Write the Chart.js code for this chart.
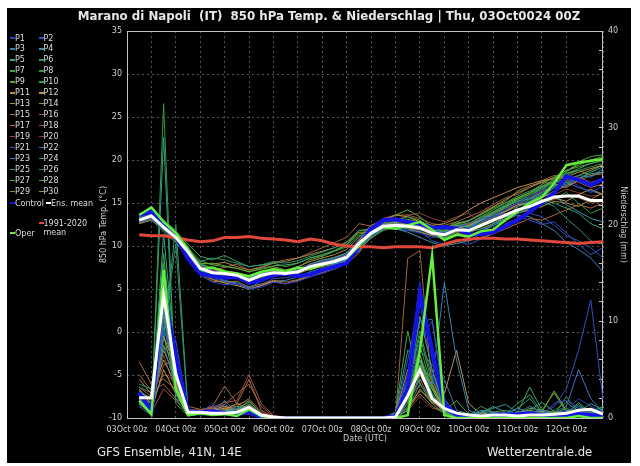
<!DOCTYPE html>
<html>
<head>
<meta charset="utf-8">
<script src="https://cdn.jsdelivr.net/npm/chart.js@4.4.1/dist/chart.umd.min.js"></script>
<style>
  html, body { margin: 0; padding: 0; background: #fff; width: 640px; height: 466px; overflow: hidden; font-family: "DejaVu Sans", sans-serif; }
  #panel { position: absolute; left: 7px; top: 8px; width: 624px; height: 455px; background: #000; }
  #chart { position: absolute; left: 0; top: 0; }
  .txt { position: absolute; color: #e8e8e8; white-space: pre; }
  #title { left: 9px; width: 640px; top: 9px; text-align: center; font-weight: bold; font-size: 11.8px; }
  .foot { top: 445px; font-size: 11.7px; }
  .leg { position: absolute; font-size: 8px; line-height: 9px; color: #dcdcdc; white-space: pre; }
  .sw { position: absolute; height: 1.5px; width: 5px; }
</style>
</head>
<body>
<div id="panel"></div>
<canvas id="chart" width="640" height="466"></canvas>
<div id="title" class="txt">Marano di Napoli  (IT)  850 hPa Temp. &amp; Niederschlag | Thu, 03Oct0024 00Z</div>
<div class="txt foot" style="left:97px">GFS Ensemble, 41N, 14E</div>
<div class="txt foot" style="left:487px">Wetterzentrale.de</div>
<div id="legend"></div>
<script>
/* global Chart */

// forecast hours (from 03Oct 00z)
var hours = [6,12,18,24,30,36,42,48,54,60,66,72,78,84,90,96,102,108,114,120,126,132,138,144,150,156,162,168,174,180,186,192,198,204,210,216,222,228,234];
var dayLabels = ['03Oct 00z','04Oct 00z','05Oct 00z','06Oct 00z','07Oct 00z','08Oct 00z','09Oct 00z','10Oct 00z','11Oct 00z','12Oct 00z'];

var memberNames = ['P1','P2','P3','P4','P5','P6','P7','P8','P9','P10','P11','P12','P13','P14','P15',
    'P16','P17','P18','P19','P20','P21','P22','P23','P24','P25','P26','P27','P28','P29','P30'];
var memberColors = ['#2a44c4','#3452c8','#3482b4','#3c94a4','#30a484','#2e9470','#3ca650','#3c9440','#64a430','#30a434',
    '#b49244','#c49444','#b49458','#a48a40','#a47244','#a46040','#b46444','#a45040','#945040','#844030',
    '#3050c4','#4072c4','#3484b4','#3494a4','#30a474','#2e9464','#40a444','#50a444','#74a430','#84a430'];

// 850 hPa temperature (°C), one row per member P1..P30
var memberTemp = [
  [13.2,13.8,12.5,11.3,8.8,6.6,5.8,5.5,5.6,5.0,5.2,5.8,5.6,5.9,6.4,6.8,7.3,8.0,9.6,11.8,12.6,12.2,11.8,11.5,11.0,11.2,11.8,12.0,12.8,13.5,14.2,15.0,15.8,16.5,17.2,17.8,17.0,16.2,17.0],
  [12.8,13.2,11.8,10.6,9.0,7.6,7.2,6.6,6.3,5.8,6.2,6.8,7.0,7.3,7.8,8.2,8.5,9.0,10.8,12.2,12.9,13.2,12.8,12.4,11.8,11.5,12.2,12.6,13.2,13.4,13.8,13.5,13.0,12.5,12.8,11.5,10.2,9.0,9.8],
  [13.1,13.6,12.4,11.5,9.8,7.4,6.6,5.9,5.6,5.1,5.9,6.6,6.8,6.3,6.9,7.3,7.9,8.4,9.6,11.0,12.0,12.6,12.8,12.0,11.4,10.9,11.4,11.0,11.6,12.4,13.0,13.8,14.4,15.6,16.8,17.0,18.2,18.0,19.0],
  [12.9,13.4,12.0,10.8,9.5,7.8,7.4,7.0,6.8,6.2,6.8,7.2,6.9,7.1,7.9,8.4,8.6,9.2,10.5,11.2,12.2,12.0,11.6,11.0,10.4,10.0,10.3,10.6,11.4,12.6,13.2,14.6,15.2,16.0,15.8,14.8,14.0,13.2,12.8],
  [13.4,14.0,12.8,11.6,9.2,7.2,6.6,6.8,6.9,6.4,6.6,6.8,6.6,7.2,7.6,7.7,8.0,8.4,10.0,11.6,12.4,12.8,13.0,12.6,11.9,11.6,12.4,12.2,13.0,13.8,14.6,15.2,15.5,16.2,17.0,17.4,17.8,18.6,19.2],
  [13.0,13.5,12.1,10.9,9.0,8.2,8.6,8.4,8.0,7.6,7.8,8.2,8.0,8.3,8.8,9.3,9.8,10.5,11.8,12.0,12.8,13.0,12.6,12.2,11.6,11.4,11.8,11.6,12.0,12.4,13.2,14.0,14.8,15.2,14.6,13.2,12.0,10.6,10.2],
  [13.3,14.2,12.9,11.7,10.2,8.8,8.4,8.9,8.2,7.6,7.8,8.0,7.6,8.0,8.6,8.9,9.4,9.9,11.2,11.4,12.2,12.9,13.4,13.0,12.0,11.8,12.6,13.0,13.6,14.4,15.0,15.8,16.4,17.0,17.6,18.4,19.0,19.6,20.0],
  [12.7,13.1,11.6,10.4,8.7,7.1,6.8,6.5,6.4,6.0,6.5,6.9,6.8,7.0,7.5,7.8,8.1,8.5,9.9,11.0,11.8,12.2,12.4,12.5,12.0,11.6,12.0,11.8,12.2,12.8,13.6,14.2,14.0,14.8,15.6,16.2,15.0,13.8,14.4],
  [13.2,13.9,12.6,11.2,9.4,7.9,8.0,7.7,7.4,7.0,7.3,7.6,7.2,7.5,8.4,8.8,9.4,10.1,11.8,11.9,12.6,13.6,14.2,13.4,12.2,12.0,12.8,12.6,13.4,14.2,15.0,15.6,16.2,17.2,18.0,18.8,19.4,20.0,20.4],
  [13.5,14.3,13.0,11.8,9.9,7.9,7.5,7.2,6.6,6.1,6.4,6.7,6.9,7.3,7.6,8.0,8.2,8.6,10.1,11.3,12.1,12.3,12.0,12.2,11.4,11.0,11.6,11.9,12.7,13.6,14.4,15.4,16.0,16.6,17.4,18.6,19.6,19.8,20.2],
  [12.6,13.0,11.9,10.7,9.1,7.4,7.0,6.9,6.7,6.3,6.9,7.4,7.2,7.6,8.2,8.6,9.0,9.6,11.0,12.4,13.0,13.6,13.4,12.8,12.4,12.6,13.2,14.2,15.0,15.6,16.2,16.8,17.2,17.6,17.8,18.0,18.6,19.0,19.4],
  [13.0,13.6,12.3,11.1,9.5,7.0,6.1,5.7,5.4,5.0,5.4,5.9,5.6,6.0,6.5,7.0,7.6,8.2,9.8,11.7,12.5,12.8,12.2,11.9,11.7,11.2,12.0,12.4,13.0,13.6,14.0,14.8,15.0,15.6,16.4,17.0,17.6,17.2,17.6],
  [13.1,13.7,12.2,11.0,9.2,7.3,6.8,6.6,6.5,5.9,6.5,6.8,6.6,6.8,7.3,7.6,7.9,8.3,9.6,10.9,11.9,12.4,12.5,12.3,11.8,11.4,11.9,11.6,12.0,12.6,13.4,14.0,14.8,15.4,15.6,15.2,16.0,16.6,16.0],
  [12.8,13.3,12.0,10.9,9.3,8.0,7.9,8.1,7.6,7.2,7.5,8.0,8.2,8.6,9.0,9.4,9.8,10.4,11.6,11.6,12.4,12.5,12.0,11.6,11.2,10.8,11.4,11.7,12.3,12.9,13.4,13.8,14.2,14.6,15.2,15.0,14.6,15.4,16.2],
  [13.3,13.8,12.4,11.4,9.6,6.8,5.9,5.8,5.9,5.2,5.6,6.0,5.8,6.1,6.6,6.9,7.4,7.9,9.2,11.2,12.2,12.6,12.7,12.8,12.3,12.1,12.5,12.9,13.8,14.6,15.2,16.4,17.0,17.4,17.2,16.8,17.6,18.2,18.4],
  [12.9,13.4,12.1,10.8,9.0,7.6,7.2,7.5,7.9,7.2,7.6,8.1,8.4,8.6,9.2,9.8,10.4,11.0,12.6,12.3,13.2,13.6,13.6,13.2,12.6,12.4,12.8,13.4,14.0,14.8,15.6,16.0,16.8,17.6,18.2,18.0,17.4,16.8,17.2],
  [13.0,13.5,12.2,11.0,9.3,7.5,7.1,6.9,6.6,6.2,6.6,6.9,6.9,7.1,7.6,7.9,8.2,8.6,10.0,11.4,12.3,12.5,12.4,12.0,11.5,11.2,11.7,10.6,11.0,11.4,12.0,12.6,13.2,13.0,13.6,14.2,14.8,14.4,15.0],
  [13.2,13.7,12.5,11.3,9.7,7.8,7.0,6.7,6.3,5.8,6.3,6.7,6.6,6.9,7.5,7.9,8.3,8.8,10.2,11.5,12.4,12.7,12.6,12.2,11.8,11.6,12.2,12.4,13.0,13.8,14.4,15.0,15.6,16.4,17.0,17.6,18.0,17.4,17.8],
  [12.7,13.2,11.9,10.6,8.9,7.2,6.9,6.8,6.7,6.1,6.6,7.0,6.9,7.2,7.8,8.1,8.4,8.8,10.2,11.6,12.3,12.4,12.1,11.9,11.3,11.1,11.6,11.9,12.4,13.0,13.6,14.2,14.6,15.0,15.4,15.8,15.6,15.0,15.2],
  [13.1,13.6,12.3,11.1,9.4,7.6,7.2,7.0,6.9,6.4,6.9,7.2,7.0,7.3,7.9,8.2,8.6,9.1,10.6,11.8,12.5,12.9,13.6,13.8,13.2,12.8,13.4,13.8,12.6,13.2,14.0,14.6,15.2,15.8,16.0,16.6,16.2,15.8,16.0],
  [13.4,14.0,12.7,11.5,9.4,6.9,6.2,5.9,5.6,5.3,5.5,6.2,6.3,6.6,6.9,7.2,7.6,8.2,9.5,11.3,12.1,12.2,12.0,11.8,10.6,10.2,10.5,10.2,10.8,11.4,12.6,13.2,13.8,13.4,12.4,11.2,10.6,9.8,8.6],
  [12.9,13.4,12.0,10.9,9.2,7.4,6.9,6.7,6.6,6.0,6.5,6.9,6.9,7.2,7.7,8.0,8.3,8.7,10.1,11.4,12.2,12.3,12.1,11.9,11.4,11.2,11.8,12.2,12.8,13.4,14.2,15.0,15.6,16.2,17.0,17.4,16.8,16.4,16.0],
  [13.0,13.6,12.3,11.0,9.1,6.7,6.4,6.0,5.7,5.0,5.4,5.9,6.0,6.4,7.0,7.4,7.8,8.3,9.4,11.2,12.0,12.0,11.8,11.7,11.2,11.0,11.4,11.2,11.8,12.4,13.0,13.6,13.4,12.6,11.8,10.4,9.6,8.6,7.0],
  [13.2,13.8,12.4,11.2,9.3,7.5,7.0,6.8,6.7,6.2,6.7,7.0,6.8,7.1,7.7,8.0,8.4,8.9,10.4,11.7,12.4,12.6,12.4,12.2,11.7,11.5,12.1,12.3,12.9,13.5,14.1,14.8,15.4,16.0,16.8,17.2,17.8,18.4,18.6],
  [12.8,13.3,12.0,10.8,9.0,7.3,6.9,6.7,6.5,6.0,6.5,6.9,6.8,7.1,7.6,7.9,8.3,8.8,10.3,11.6,12.3,12.5,12.3,12.1,11.5,11.3,11.9,12.1,12.7,13.3,14.0,14.6,15.0,15.4,15.0,14.4,13.8,12.6,12.0],
  [13.1,13.7,12.4,11.1,9.4,7.6,7.1,6.9,6.6,6.0,6.6,7.0,6.9,7.1,7.7,8.1,8.5,9.0,10.6,11.8,12.6,12.9,12.7,12.4,11.8,11.6,12.3,12.6,13.3,14.0,14.8,15.6,16.2,16.8,17.4,18.2,18.8,19.2,19.6],
  [13.3,14.1,12.8,11.5,9.7,8.3,7.8,7.6,7.4,7.0,7.4,7.7,7.8,8.0,8.6,9.0,9.5,10.2,11.4,11.7,12.5,12.8,12.9,12.7,12.0,11.8,12.4,12.6,13.2,13.8,14.6,15.2,15.8,16.6,17.6,18.6,19.8,20.4,20.6],
  [12.9,13.4,12.1,10.9,9.1,7.3,6.8,6.6,6.4,5.9,6.4,6.8,6.7,7.0,7.6,7.9,8.2,8.7,10.2,11.5,12.3,12.6,12.5,12.3,11.8,11.6,12.2,12.4,13.1,13.8,14.5,15.4,16.0,16.8,17.8,18.8,19.2,19.6,19.9],
  [13.2,13.9,12.6,11.4,9.6,7.8,7.4,7.1,6.9,6.4,6.8,7.1,7.0,7.3,7.9,8.3,8.7,9.2,10.7,12.0,12.7,13.1,13.1,12.8,12.2,12.0,12.6,12.9,13.7,14.5,15.4,16.2,16.8,17.4,18.0,18.4,18.8,18.2,18.6],
  [13.0,13.6,12.3,11.1,9.3,7.4,6.9,6.8,6.7,6.2,6.6,6.9,6.8,7.0,7.6,8.0,8.3,8.8,10.3,11.6,12.4,12.7,12.6,12.4,11.9,11.7,12.3,12.5,13.2,13.9,14.7,15.5,16.2,16.9,17.4,17.8,18.2,18.8,19.4]
];

// 6-hourly precipitation (mm), one row per member P1..P30
var memberPrecip = [
  [2.5,1.2,13.5,4.0,0.4,0.5,1.5,0.6,0.3,0.8,0.2,0,0,0,0,0,0,0,0,0,0,0.2,4.5,14.0,6.0,0.8,0.2,0.1,0,0.2,0.1,0.3,0.6,0.4,0.2,0.8,2.0,1.2,0.6],
  [1.8,0.6,9.0,6.5,0.6,0.3,0.4,0.5,0.8,0.6,0.1,0,0,0,0,0,0,0,0,0,0,0.3,3.0,8.0,10.0,2.0,0.3,0.2,0.4,0.1,0.2,0.2,0.5,0.3,1.5,1.8,1.0,0.3,0.2],
  [1.2,0.3,7.5,3.2,0.2,0.4,0.6,1.8,0.5,0.4,0,0,0,0,0,0,0,0,0,0,0,0.1,1.5,4.0,3.5,14.0,6.0,0.8,0.3,0.1,0.4,1.0,0.6,0.8,0.4,0.6,1.4,0.5,0.3],
  [2.8,2.0,11.0,2.5,0.3,0.6,0.5,0.7,0.9,1.2,0.3,0,0,0,0,0,0,0,0,0,0,0.2,2.5,10.5,5.0,1.0,0.4,0.2,0.8,0.6,0.3,0.5,1.2,0.6,0.3,0.5,0.4,0.3,0.8],
  [1.5,0.8,19.0,5.5,0.5,0.5,0.3,0.6,1.2,0.9,0.2,0,0,0,0,0,0,0,0,0,0,0,0.8,6.0,2.5,0.6,0.3,0.1,0.5,1.2,0.6,0.4,0.8,1.6,0.7,0.4,0.6,1.5,0.8],
  [3.5,3.0,8.0,20.0,0.8,0.4,0.6,0.8,0.5,0.6,0.1,0,0,0,0,0,0,0,0,0,0,0.2,1.0,3.5,2.0,0.8,0.2,0.3,0.6,0.4,0.3,1.0,2.0,0.5,0.3,0.4,1.2,0.6,0.4],
  [2.2,1.0,16.0,3.0,0.4,0.7,0.6,0.5,0.8,1.8,0.4,0,0,0,0,0,0,0,0,0,0,0.6,9.0,3.5,1.5,0.5,0.2,0.1,0.3,0.2,0.4,0.6,3.2,0.8,0.4,0.3,0.5,0.2,0.3],
  [1.6,0.4,12.0,7.0,0.3,0.6,0.4,0.5,0.6,0.7,0.2,0,0,0,0,0,0,0,0,0,0,0.3,3.5,9.0,4.0,1.2,0.4,0.2,1.2,0.6,0.2,0.3,0.5,0.4,0.8,1.6,0.7,0.3,0.5],
  [2.0,1.6,10.5,4.5,0.5,0.5,0.7,0.4,0.7,0.5,0.1,0,0,0,0,0,0,0,0,0,0,0.1,2.0,5.5,3.0,0.7,1.8,0.4,0.2,0.3,0.5,0.3,0.4,0.6,2.8,0.8,0.4,1.0,0.6],
  [2.6,0.2,32.5,1.5,0.2,0.4,0.5,0.6,0.4,0.6,0.2,0,0,0,0,0,0,0,0,0,0,0.2,1.5,7.5,3.0,0.4,0.2,0.1,0.4,0.2,0.3,0.4,0.6,0.3,0.5,1.0,0.4,0.3,0.2],
  [4.0,2.5,6.0,3.5,0.6,0.5,0.8,1.0,0.6,0.8,0.3,0,0,0,0,0,0,0,0,0,0,0.4,5.0,6.5,1.8,0.6,0.3,0.2,0.3,0.4,0.6,0.5,0.4,0.7,0.5,0.4,0.3,0.4,0.2],
  [3.0,1.4,8.5,5.0,0.5,0.6,0.7,0.8,1.5,1.0,0.2,0,0,0,0,0,0,0,0,0,0,0.2,2.5,4.5,2.0,1.0,0.4,0.2,0.6,0.3,0.2,0.6,0.8,0.5,0.4,0.6,0.5,0.3,0.4],
  [1.8,0.8,5.0,2.5,0.4,0.6,0.9,1.2,0.8,1.4,0.4,0,0,0,0,0,0,0,0,0,0,0,0.8,3.0,1.5,2.5,7.0,1.5,0.4,0.2,0.3,0.4,0.6,0.5,0.3,0.5,0.6,0.4,0.3],
  [2.4,1.8,7.0,4.0,0.3,0.5,0.4,0.7,0.9,0.6,0.1,0,0,0,0,0,0,0,0,0,0,0.3,1.5,5.0,3.5,0.8,0.3,0.4,0.3,0.5,0.4,0.3,0.5,0.8,0.6,0.3,0.4,0.5,0.3],
  [5.8,3.5,4.0,3.0,0.9,0.8,1.2,3.3,1.5,4.0,0.8,0.1,0,0,0,0,0,0,0,0,0,0.2,1.0,2.5,1.2,0.5,0.6,0.3,0.2,0.4,0.3,0.5,0.4,0.6,0.3,0.4,0.5,0.6,0.4],
  [4.5,2.8,3.5,2.0,1.2,0.9,1.0,1.4,2.5,3.5,1.2,0.2,0,0,0,0,0,0,0,0,0,0.2,16.5,17.3,3.0,0.8,0.4,0.3,0.5,0.3,0.4,0.6,0.3,0.4,0.5,0.6,0.4,0.3,0.5],
  [3.2,2.2,5.5,6.0,0.6,0.5,0.9,1.0,1.2,2.0,0.6,0,0,0,0,0,0,0,0,0,0,0.1,2.0,4.0,1.6,1.0,0.4,0.2,0.3,0.2,0.3,0.4,0.5,0.4,0.3,0.5,0.6,0.4,0.3],
  [2.6,1.5,4.5,3.8,0.7,0.8,1.1,1.6,1.8,4.5,1.5,0.3,0,0,0,0,0,0,0,0,0,0.3,1.8,3.5,5.0,1.5,0.5,0.3,0.2,0.3,0.4,0.3,0.4,0.5,0.3,0.4,0.3,0.5,0.4],
  [1.4,0.6,3.0,1.8,0.4,0.6,0.7,0.9,1.0,1.2,0.3,0,0,0,0,0,0,0,0,0,0,0.1,1.2,2.8,2.0,0.6,0.3,0.2,0.4,0.3,0.2,0.3,0.4,0.3,0.5,0.4,0.3,0.2,0.3],
  [2.2,1.2,6.5,2.8,0.5,0.6,0.6,1.1,1.4,1.8,0.5,0,0,0,0,0,0,0,0,0,0,0.2,0.8,2.2,1.0,0.8,0.4,0.3,0.2,0.2,0.3,0.2,0.4,0.3,0.4,0.3,0.5,0.3,0.2],
  [3.0,0.9,10.0,8.0,0.5,0.4,1.2,0.5,0.4,0.6,0.1,0,0,0,0,0,0,0,0,0,0,0.4,6.0,12.0,4.5,1.0,0.3,0.2,0.4,0.3,0.2,0.4,0.6,0.5,1.2,3.0,7.0,12.2,1.9],
  [2.0,0.7,12.5,5.0,0.4,0.5,0.6,0.4,0.5,0.7,0.2,0,0,0,0,0,0,0,0,0,0,0.3,4.0,10.0,10.2,1.8,0.5,0.3,0.2,0.6,0.4,0.3,0.5,0.4,0.6,1.2,5.0,2.0,0.6],
  [1.4,0.5,9.5,4.2,0.3,0.6,0.5,1.4,0.7,0.5,0.1,0,0,0,0,0,0,0,0,0,0,0.2,3.0,7.0,5.5,4.0,0.8,0.4,0.3,0.2,0.5,0.6,0.4,0.7,0.5,0.8,0.6,0.4,1.0],
  [2.4,0.2,29.0,2.0,0.3,0.5,0.4,0.5,0.6,0.8,0.2,0,0,0,0,0,0,0,0,0,0,0.1,1.8,5.0,2.5,0.6,0.3,0.2,0.6,1.0,1.4,0.6,0.4,0.5,0.3,0.6,0.5,0.8,0.4],
  [1.9,1.3,14.0,6.0,0.4,0.5,0.6,0.6,1.0,1.6,0.3,0,0,0,0,0,0,0,0,0,0,0.5,7.0,6.0,2.0,0.7,0.3,0.2,0.5,0.3,0.4,1.5,2.4,0.6,0.4,0.3,0.5,0.4,0.3],
  [3.2,2.6,9.0,18.0,0.6,0.4,0.5,0.7,0.6,0.9,0.2,0,0,0,0,0,0,0,0,0,0,0.2,2.5,6.5,3.0,1.0,0.4,0.3,0.2,0.4,0.3,0.5,0.6,0.4,0.3,2.2,0.6,0.4,0.3],
  [2.5,1.1,17.0,4.5,0.5,0.6,0.7,0.5,0.8,1.0,0.2,0,0,0,0,0,0,0,0,0,0,0.3,3.5,8.5,3.5,0.8,0.3,0.2,0.3,0.6,0.8,0.4,0.5,0.3,0.6,0.4,1.6,0.5,0.6],
  [1.7,0.4,11.5,3.0,0.3,0.5,0.4,0.6,0.5,1.3,0.1,0,0,0,0,0,0,0,0,0,0,0.1,1.2,4.5,2.2,0.5,0.2,0.3,0.4,0.2,0.3,0.4,0.3,0.5,0.4,0.3,0.4,0.6,1.2],
  [2.1,1.5,8.5,3.5,0.4,0.6,0.5,0.8,0.7,1.1,0.2,0,0,0,0,0,0,0,0,0,0,0.2,2.0,5.5,4.0,0.9,0.4,0.2,0.6,0.4,0.5,0.3,1.0,0.8,2.6,0.6,0.4,0.3,0.5],
  [2.7,1.9,7.5,5.5,0.5,0.5,0.6,0.6,0.8,1.0,0.2,0,0,0,0,0,0,0,0,0,0,0.3,2.8,6.0,3.2,0.8,0.3,0.2,0.4,0.3,0.4,0.6,0.5,0.4,0.6,0.5,0.3,0.6,0.4]
];

var controlTemp = [13.6,14.0,12.6,11.2,8.5,6.8,6.5,6.3,6.4,5.7,6.0,6.6,6.8,6.5,6.7,7.2,7.6,8.0,10.0,12.0,13.0,13.1,12.8,12.6,12.1,12.2,12.0,11.3,11.4,11.6,12.3,13.0,14.0,15.0,16.2,18.1,17.7,17.1,17.8];
var controlPrecip = [2.6,0.7,13.5,6.3,0.7,0.6,0.7,0.5,0.4,0.6,0.1,0,0,0,0,0,0,0,0,0,0,0.2,3.0,13.0,7.0,1.5,0.3,0.2,0.1,0.3,0.4,0.4,0.5,0.3,0.2,0.3,0.4,0.3,0.2];
var operTemp = [13.6,14.5,12.8,11.5,9.6,7.3,7.5,7.0,6.8,6.5,7.0,7.3,7.0,7.5,7.3,7.8,8.3,8.6,10.0,11.5,12.2,12.0,12.4,12.8,11.9,10.7,11.3,11.1,11.7,11.9,13.0,14.0,15.0,15.7,17.3,19.4,19.7,19.9,20.1];
var operPrecip = [1.8,0.4,15.3,3.0,0.3,0.5,0.3,0.4,0.2,0.9,0.2,0,0,0,0,0,0,0,0,0,0,0,0.3,7.0,16.8,0.3,0,0,0,0,0,0,0,0,0,0,0.2,0,0];
var ensMeanTemp = [13.0,13.5,12.2,11.0,9.3,7.4,6.9,6.8,6.6,6.0,6.6,6.9,6.8,7.0,7.6,7.9,8.2,8.7,10.3,11.5,12.3,12.4,12.3,12.1,11.5,11.3,11.9,11.8,12.4,13.0,13.6,14.2,14.6,15.2,15.7,15.8,15.8,15.3,15.3];
var ensMeanPrecip = [2.1,2.1,12.7,4.5,0.6,0.6,0.5,0.5,0.6,1.1,0.3,0.1,0,0,0,0,0,0,0,0,0,0.1,2.3,5.0,2.0,1.0,0.5,0.3,0.2,0.3,0.3,0.2,0.3,0.3,0.4,0.5,0.8,0.9,0.4];
var climateTemp = [11.3,11.2,11.2,11.0,10.7,10.5,10.6,11.0,11.0,11.1,10.9,10.8,10.7,10.5,10.8,10.6,10.2,10.0,9.9,9.9,9.8,9.9,9.9,9.9,9.8,10.2,10.6,10.8,10.9,10.9,10.8,10.8,10.7,10.6,10.5,10.4,10.3,10.4,10.5];

(function () {

    var datasets = [];

    var line = function (data, color, width, axis, order) {
        return { data: data, borderColor: color, borderWidth: width, yAxisID: axis, order: order, fill: false };
    };

    datasets.push(line(ensMeanTemp, '#ffffff', 3, 'y', 0));
    datasets.push(line(ensMeanPrecip, '#ffffff', 3, 'y2', 0));
    datasets.push(line(operTemp, '#66ee3c', 2.5, 'y', 1));
    datasets.push(line(operPrecip, '#66ee3c', 2.5, 'y2', 1));
    datasets.push(line(climateTemp, '#e0483c', 3, 'y', 2));
    datasets.push(line(controlTemp, '#1414e6', 4, 'y', 3));
    datasets.push(line(controlPrecip, '#1414e6', 4, 'y2', 3));
    for (var i = 0; i < memberNames.length; i++) {
        datasets.push(line(memberTemp[i], memberColors[i], 1, 'y', 10 + i));
        datasets.push(line(memberPrecip[i], memberColors[i], 1, 'y2', 10 + i));
    }

    var axisFont = { family: 'DejaVu Sans', size: 8 };
    var gridColor = '#555555';

    var framePlugin = {
        id: 'frame',
        beforeDatasetsDraw: function (chart) {
            var a = chart.chartArea, ctx = chart.ctx;
            ctx.save();
            ctx.strokeStyle = '#c4c4c4';
            ctx.lineWidth = 1;
            ctx.strokeRect(a.left + 0.5, a.top + 0.5, a.right - a.left - 1, a.bottom - a.top);
            ctx.restore();
        }
    };

    Chart.defaults.font.family = 'DejaVu Sans';
    Chart.defaults.color = '#d0d0d0';

    new Chart(document.getElementById('chart').getContext('2d'), {
        type: 'line',
        data: { labels: hours, datasets: datasets },
        options: {
            responsive: false,
            animation: false,
            events: [],
            layout: { padding: { left: 95, top: 31, right: 8, bottom: 18 } },
            elements: { point: { radius: 0 }, line: { tension: 0, borderJoinStyle: 'miter' } },
            plugins: { legend: { display: false }, tooltip: { enabled: false } },
            scales: {
                x: {
                    type: 'linear', min: 0, max: 234,
                    afterFit: function (s) { s.height = 30; },
                    ticks: {
                        stepSize: 12, autoSkip: false, maxRotation: 0, padding: 7, font: axisFont, color: '#d0d0d0',
                        callback: function (v) { return v % 24 === 0 ? dayLabels[v / 24] : ''; }
                    },
                    grid: { color: gridColor, drawTicks: false },
                    border: { display: false, dash: [2, 3] },
                    title: { display: true, text: 'Date (UTC)', font: axisFont, color: '#d0d0d0', padding: { top: 2, bottom: 4 } }
                },
                y: {
                    position: 'left', min: -10, max: 35,
                    afterFit: function (s) { s.width = 32; },
                    ticks: { stepSize: 5, padding: 5, font: axisFont, color: '#d0d0d0' },
                    grid: { color: gridColor, drawTicks: false },
                    border: { display: false, dash: [2, 3] },
                    title: { display: true, text: '850 hPa Temp. (°C)', font: axisFont, color: '#d0d0d0', padding: { top: 4, bottom: 4 } }
                },
                y2: {
                    position: 'right', min: 0, max: 40,
                    afterFit: function (s) { s.width = 29; },
                    ticks: {
                        stepSize: 2, autoSkip: false, padding: 9, font: axisFont, color: '#d0d0d0',
                        callback: function (v) { return v % 10 === 0 ? v : ''; }
                    },
                    grid: { drawOnChartArea: false, drawTicks: true, tickLength: -4, tickColor: '#c4c4c4' },
                    border: { display: false },
                    title: { display: true, text: 'Niederschlag (mm)', font: axisFont, color: '#d0d0d0', padding: { top: 4, bottom: 4 } }
                }
            }
        },
        plugins: [framePlugin]
    });

    // legend, two columns like the original
    var legend = document.getElementById('legend');
    var addItem = function (label, color, sx, y) {
        var sw = document.createElement('div');
        sw.className = 'sw';
        sw.style.left = sx + 'px';
        sw.style.top = (y - 0.75) + 'px';
        sw.style.background = color;
        legend.appendChild(sw);
        var t = document.createElement('div');
        t.className = 'leg';
        t.style.left = (sx + 5) + 'px';
        t.style.top = (y - 4.5) + 'px';
        t.textContent = label;
        legend.appendChild(t);
    };
    for (var k = 0; k < memberNames.length; k++) {
        addItem(memberNames[k], memberColors[k], k % 2 === 0 ? 10 : 38.5, 38 + Math.floor(k / 2) * 10.95);
    }
    addItem('Control', '#1414e6', 10, 203);
    addItem('Ens. mean', '#ffffff', 46, 203);
    addItem('1991-2020\nmean', '#e0483c', 38.5, 223);
    addItem('Oper', '#66ee3c', 10, 233);

})();
</script>
</body>
</html>
